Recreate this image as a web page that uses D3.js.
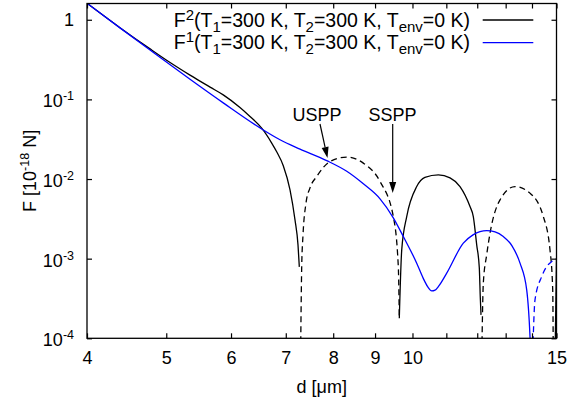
<!DOCTYPE html>
<html>
<head>
<meta charset="utf-8">
<script src="https://cdn.jsdelivr.net/npm/d3@7"></script>
<style>
  body { margin: 0; background: #fff; }
  svg { display: block; }
  text { font-family: "Liberation Sans", Arial, Helvetica, sans-serif; fill: #000; }
</style>
</head>
<body>
<svg id="chart" width="580" height="405"></svg>
<script>
// Axis ticks
const xTicks = [4, 5, 6, 7, 8, 9, 10, 11, 12, 13, 14, 15];
const xTickLabels = [4, 5, 6, 7, 8, 9, 10, 15];
const yTicks = [1e-4, 1e-3, 1e-2, 1e-1, 1];
const yTickExponents = [-4, -3, -2, -1, 0];

// F^2 (black): positive branches drawn solid, negative branches dashed as |F|
const f2PosA_d = [4.000, 4.389, 4.777, 5.054, 5.346, 5.656, 5.870, 6.153, 6.329, 6.541, 6.728, 6.823, 6.951, 7.084, 7.184, 7.245, 7.272];
const f2PosA_F = [1.612, 0.7955, 0.431, 0.2908, 0.2019, 0.1427, 0.1139, 0.0791, 0.0610, 0.04347, 0.0283, 0.0220, 0.0147, 0.00731, 0.00307, 0.00149, 0.000789];
const f2NegA_d = [7.297, 7.321, 7.348, 7.410, 7.494, 7.637, 7.929, 8.311, 8.708, 9.127, 9.475, 9.609, 9.636];
const f2NegA_F = [0.00005, 0.000796, 0.00199, 0.00498, 0.00775, 0.01075, 0.01659, 0.01884, 0.01584, 0.00930, 0.00338, 0.000796, 0.000179];
const f2PosB_d = [9.636, 9.702, 9.839, 10.120, 10.356, 10.755, 11.115, 11.432, 11.758, 11.868, 11.982, 12.070, 12.104, 12.128];
const f2PosB_F = [0.000179, 0.00129, 0.00338, 0.00805, 0.0105, 0.01129, 0.01035, 0.00805, 0.00451, 0.00338, 0.00149, 0.000766, 0.000322, 0.000197];
const f2NegB_d = [12.152, 12.207, 12.324, 12.440, 12.795, 13.347, 13.922, 14.453, 14.728, 14.841, 14.866];
const f2NegB_F = [0.00005, 0.000492, 0.00112, 0.00209, 0.00548, 0.00805, 0.00665, 0.00338, 0.00129, 0.000406, 0.00005];
const f2PosC_d = [14.937, 15.0];
const f2PosC_F = [0.00005, 0.00102];

// F^1 (blue)
const f1Pos_d = [4.000, 4.389, 4.777, 5.346, 5.870, 6.541, 6.887, 7.286, 7.855, 8.311, 8.708, 9.127, 9.475, 9.746, 10.120, 10.308, 10.431, 10.557, 10.656, 10.776, 11.012, 11.539, 11.858, 12.094, 12.324, 12.617, 12.914, 13.234, 13.536, 13.793, 13.922, 13.962];
const f1Pos_F = [1.612, 0.7911, 0.4163, 0.1789, 0.0904, 0.04247, 0.0311, 0.02375, 0.01703, 0.0125, 0.008705, 0.00564, 0.00326, 0.001895, 0.000878, 0.000566, 0.000449, 0.000394, 0.000403, 0.000458, 0.000657, 0.001566, 0.00199, 0.00219, 0.002254, 0.00217, 0.001895, 0.001448, 0.000878, 0.000406, 0.000105, 0.00005];
const f1Neg_d = [14.020, 14.119, 14.388, 14.584, 14.799, 15.0];
const f1Neg_F = [0.00005, 0.000304, 0.000596, 0.000789, 0.00092, 0.000994];

const legendRows = [
  { parts: [["F"], ["2", "sup"], ["(T"], ["1", "sub"], ["=300 K, T"], ["2", "sub"], ["=300 K, T"], ["env", "sub"], ["=0 K)"]], color: "#000000" },
  { parts: [["F"], ["1", "sup"], ["(T"], ["1", "sub"], ["=300 K, T"], ["2", "sub"], ["=300 K, T"], ["env", "sub"], ["=0 K)"]], color: "#0000ff" }
];

const svg = d3.select("#chart");
const plot = { left: 87, right: 556.5, top: 3.5, bottom: 338.3 };
const fontSize = 18;

const x = d3.scaleLog().domain([4, 15]).range([plot.left, plot.right]);
const y = d3.scaleLog().domain([1e-4, 1.6]).range([plot.bottom, plot.top]);

svg.append("defs").append("clipPath").attr("id", "plotClip")
  .append("rect")
  .attr("x", plot.left).attr("y", plot.top)
  .attr("width", plot.right - plot.left).attr("height", plot.bottom - plot.top);

// Curves
const line = d3.line().x(p => x(p[0])).y(p => y(p[1])).curve(d3.curveMonotoneX);
const zip = (ds, fs) => ds.map((d, i) => [d, fs[i]]);

const curves = [
  { pts: zip(f2PosA_d, f2PosA_F), color: "#000", dashed: false },
  { pts: zip(f2NegA_d, f2NegA_F), color: "#000", dashed: true },
  { pts: zip(f2PosB_d, f2PosB_F), color: "#000", dashed: false },
  { pts: zip(f2NegB_d, f2NegB_F), color: "#000", dashed: true },
  { pts: zip(f2PosC_d, f2PosC_F), color: "#000", dashed: false },
  { pts: zip(f1Pos_d, f1Pos_F), color: "#0000ff", dashed: false },
  { pts: zip(f1Neg_d, f1Neg_F), color: "#0000ff", dashed: true }
];

const curveLayer = svg.append("g").attr("clip-path", "url(#plotClip)");
curveLayer.selectAll("path").data(curves).join("path")
  .attr("d", c => line(c.pts))
  .attr("fill", "none")
  .attr("stroke", c => c.color)
  .attr("stroke-width", 1.3)
  .attr("stroke-dasharray", c => c.dashed ? "6,4" : null);

// Axes with inward ticks, mirrored on top and right
const tickLen = 5;
const xAxisBottom = d3.axisBottom(x).tickValues(xTicks).tickSizeInner(-tickLen).tickSizeOuter(0)
  .tickPadding(16).tickFormat(v => xTickLabels.includes(v) ? String(v) : "");
const xAxisTop = d3.axisTop(x).tickValues(xTicks).tickSizeInner(-tickLen).tickSizeOuter(0).tickFormat("");
const yAxisLeft = d3.axisLeft(y).tickValues(yTicks).tickSizeInner(-tickLen).tickSizeOuter(0).tickFormat("");
const yAxisRight = d3.axisRight(y).tickValues(yTicks).tickSizeInner(-tickLen).tickSizeOuter(0).tickFormat("");

function styleAxis(g) {
  g.select(".domain").remove();
  g.selectAll(".tick line").attr("stroke", "#000").attr("stroke-width", 1.2);
  g.selectAll("text").attr("font-size", fontSize).attr("font-family", null);
}

const gx = svg.append("g").attr("transform", `translate(0,${plot.bottom})`).call(xAxisBottom).call(styleAxis);
gx.selectAll(".tick text").attr("dy", null).attr("y", 26);
svg.append("g").attr("transform", `translate(0,${plot.top})`).call(xAxisTop).call(styleAxis);
svg.append("g").attr("transform", `translate(${plot.left},0)`).call(yAxisLeft).call(styleAxis);
svg.append("g").attr("transform", `translate(${plot.right},0)`).call(yAxisRight).call(styleAxis);

// Y tick labels with superscript exponents
const yLabels = svg.append("g");
yTicks.forEach((v, i) => {
  const e = yTickExponents[i];
  const t = yLabels.append("text")
    .attr("x", 74)
    .attr("text-anchor", "end")
    .attr("font-size", fontSize);
  if (e === 0) {
    t.attr("y", y(v) + 6.5).text("1");
  } else {
    t.attr("y", y(v) + 8);
    t.append("tspan").text("10");
    t.append("tspan").attr("font-size", 12.5).attr("dy", -7).text(String(e));
  }
});

// Frame
svg.append("rect")
  .attr("x", plot.left).attr("y", plot.top)
  .attr("width", plot.right - plot.left).attr("height", plot.bottom - plot.top)
  .attr("fill", "none").attr("stroke", "#000").attr("stroke-width", 1.3);

// Axis titles
svg.append("text")
  .attr("x", (plot.left + plot.right) / 2).attr("y", 393)
  .attr("text-anchor", "middle").attr("font-size", fontSize)
  .text("d [\u03bcm]");

const yTitle = svg.append("text")
  .attr("transform", `translate(36,${(plot.top + plot.bottom) / 2}) rotate(-90)`)
  .attr("text-anchor", "middle").attr("font-size", fontSize);
yTitle.append("tspan").text("F [10");
yTitle.append("tspan").attr("font-size", 12.5).attr("dy", -7).text("-18");
yTitle.append("tspan").attr("dy", 7).text(" N]");

// Legend text with raised / lowered parts; each shift is undone on the next part
function richText(sel, parts, smallSize) {
  let pending = 0;
  parts.forEach(([txt, kind]) => {
    const shift = kind === "sup" ? -7 : kind === "sub" ? 5 : 0;
    const ts = sel.append("tspan").text(txt).attr("dy", pending + shift);
    if (kind) ts.attr("font-size", smallSize);
    pending = -shift;
  });
}

const legendY = [20, 42.7];
legendRows.forEach((row, i) => {
  const ly = legendY[i];
  const t = svg.append("text")
    .attr("x", 470).attr("y", ly + 6.5)
    .attr("text-anchor", "end").attr("font-size", 19.5);
  richText(t, row.parts, 15);
  svg.append("line")
    .attr("x1", 482.7).attr("x2", 533.3).attr("y1", ly).attr("y2", ly)
    .attr("stroke", row.color).attr("stroke-width", 1.3);
});

// Annotations
const annotations = [
  { label: "USPP", tx: 317, ty: 120.7, from: [320, 124], to: [327.5, 158] },
  { label: "SSPP", tx: 392.5, ty: 120.7, from: [392.7, 124], to: [392.7, 193] }
];
annotations.forEach(a => {
  svg.append("text").attr("x", a.tx).attr("y", a.ty)
    .attr("text-anchor", "middle").attr("font-size", fontSize).text(a.label);
  const [x1, y1] = a.from, [x2, y2] = a.to;
  const ang = Math.atan2(y2 - y1, x2 - x1);
  const hl = 11, hw = 3.5;
  const bx = x2 - hl * Math.cos(ang), by = y2 - hl * Math.sin(ang);
  svg.append("line").attr("x1", x1).attr("y1", y1).attr("x2", bx).attr("y2", by)
    .attr("stroke", "#000").attr("stroke-width", 1.2);
  const px = -Math.sin(ang) * hw, py = Math.cos(ang) * hw;
  svg.append("path")
    .attr("d", `M${x2},${y2}L${bx + px},${by + py}L${bx - px},${by - py}Z`)
    .attr("fill", "#000");
});
</script>
</body>
</html>
